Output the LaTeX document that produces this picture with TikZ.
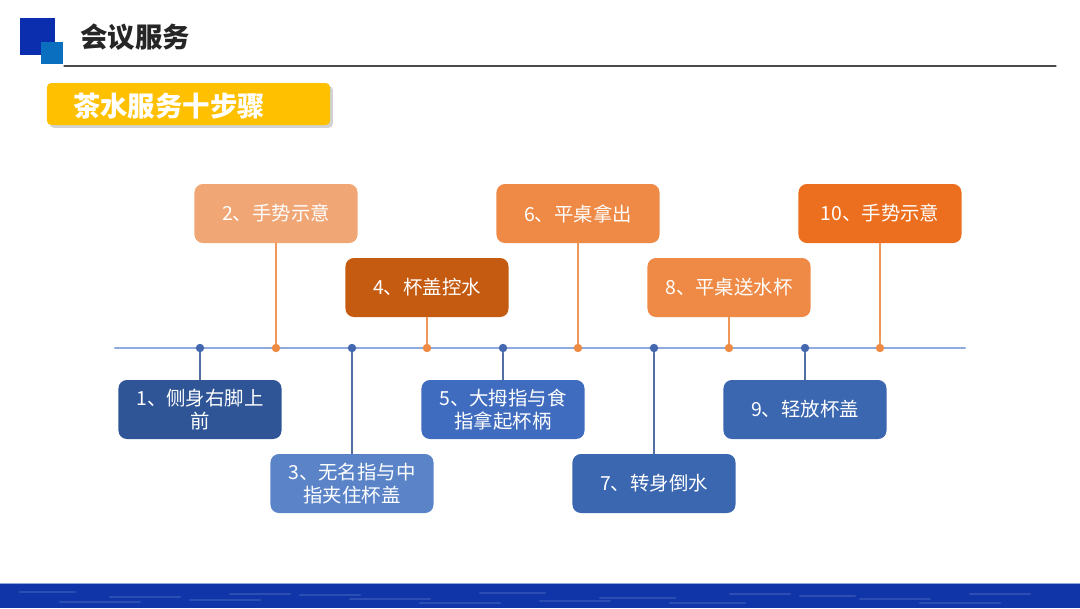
\documentclass[tikz,border=0pt]{standalone}
\usepackage{fontspec}
\setmainfont{Noto Sans CJK SC}
\usetikzlibrary{shadows}
\definecolor{xanhA}{HTML}{2F5597}
\definecolor{xanhB}{HTML}{5B84C8}
\definecolor{xanhC}{HTML}{3F6CBE}
\definecolor{xanhD}{HTML}{3B66B0}
\definecolor{camA}{HTML}{F0A675}
\definecolor{camB}{HTML}{C55A11}
\definecolor{camC}{HTML}{EE8A45}
\definecolor{camD}{HTML}{EC6F1F}
\definecolor{dotxanh}{HTML}{4468B0}
\definecolor{dotcam}{HTML}{ED8B45}
\definecolor{truc}{HTML}{8FAADC}
\definecolor{nen}{HTML}{0F35A8}
\definecolor{ovuong}{HTML}{0A2EAE}
\definecolor{onho}{HTML}{0A6FBE}
\definecolor{vang}{HTML}{FFC000}
\begin{document}
\begin{tikzpicture}[x=0.025cm,y=-0.025cm,line cap=round,line join=round,font=\fontsize{13.8}{16.5}\selectfont]
	\tikzset{buoc/.style={rounded corners=6pt,minimum width=4.075cm,minimum height=1.475cm,text width=3.7cm,align=center,text=white,inner sep=0pt},
		diem/.style={circle,inner sep=0pt,minimum size=6pt},
		noixanh/.style={draw=dotxanh!75!gray,line width=0.9pt},
		noicam/.style={draw=dotcam!90!white,line width=0.9pt}}
	\useasboundingbox (0,0) rectangle (1080,608);
	% day nen
	\fill[nen] (0,583) rectangle (1080,608);
	\draw[truc,line width=0.5pt] (0,583) -- (1080,583);
	\foreach \x/\y/\d in {20/592/55,110/597/70,230/594/60,350/599/80,480/593/65,600/598/75,730/594/60,860/599/70,970/594/60,60/602/80,190/600/70,300/595/60,420/603/80,540/601/70,670/603/75,800/596/55,920/603/80}{\draw[white,opacity=0.12,line width=1.5pt] (\x,\y) -- (\x+\d,\y);}
	% tieu de
	\fill[ovuong] (20,18) rectangle (55,55);
	\fill[onho] (41,42) rectangle (63,64);
	\node[font=\fontsize{19.5}{22}\bfseries\selectfont,text=black!85,inner sep=0pt] (tieude) at (135,37) {会议服务};
	\coordinate (kea) at (64,66);
	\coordinate (keb) at (1056,66);
	\draw[black!70,line width=0.9pt] (kea) -- (keb);
	\node[fill=vang,rounded corners=3pt,minimum width=7.075cm,minimum height=1.05cm,inner sep=0pt,drop shadow={shadow xshift=2pt,shadow yshift=-2pt,fill=black!35}] (nhan) at (188.5,104) {};
	\node[font=\fontsize{19.5}{22}\bfseries\selectfont,text=white,inner sep=0pt] (nhanchu) at (169,106) {茶水服务十步骤};
	% truc
	\coordinate (trai) at (115,348);
	\coordinate (phai) at (965,348);
	\draw[truc,line width=1.5pt] (trai) -- (phai);
	% cac buoc duoi truc
	\foreach \n/\x/\y/\m/\t in {1/200/409.5/xanhA/{1、侧身右脚上\\前},3/352/483.5/xanhB/{3、无名指与中\\指夹住杯盖},5/503/409.5/xanhC/{5、大拇指与食\\指拿起杯柄},7/654/483.5/xanhD/{7、转身倒水},9/805/409.5/xanhD/{9、轻放杯盖}}{
		\node[buoc,fill=\m] (b\n) at (\x,\y) {\t};
		\node[diem,fill=dotxanh] (d\n) at (\x,348) {};
		\draw[noixanh] (d\n) -- (b\n);
	}
	% cac buoc tren truc
	\foreach \n/\x/\y/\m/\t in {2/276/213.5/camA/{2、手势示意},4/427/287.5/camB/{4、杯盖控水},6/578/213.5/camC/{6、平桌拿出},8/729/287.5/camC/{8、平桌送水杯},10/880/213.5/camD/{10、手势示意}}{
		\node[buoc,fill=\m] (b\n) at (\x,\y) {\t};
		\node[diem,fill=dotcam] (d\n) at (\x,348) {};
		\draw[noicam] (d\n) -- (b\n);
	}
\end{tikzpicture}
\end{document}
